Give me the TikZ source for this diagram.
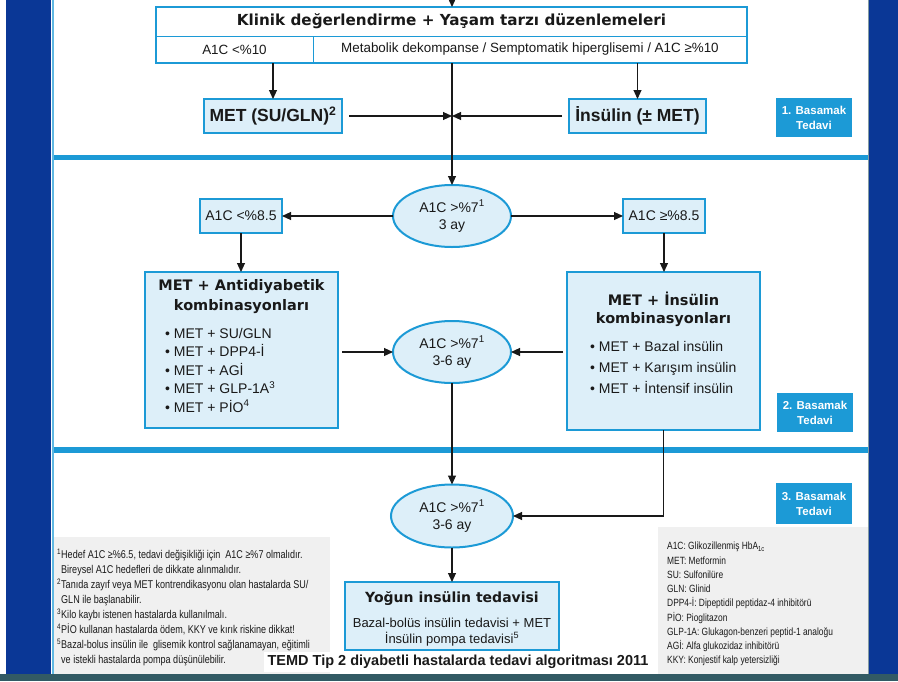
\documentclass[tikz,border=0pt]{standalone}
\usepackage{fontspec}
\setmainfont{Liberation Sans}
\newfontfamily\vfont{DejaVu Sans}
\newfontfamily\narrowfont{Liberation Sans}[FakeStretch=0.8]
\usetikzlibrary{arrows.meta,shapes.geometric,positioning}

\definecolor{navy}{RGB}{10,55,150}
\definecolor{cyanb}{RGB}{28,154,214}
\definecolor{paleb}{RGB}{221,239,249}
\definecolor{panelg}{RGB}{240,240,240}
\definecolor{edgeteal}{RGB}{50,90,100}
\definecolor{ink}{RGB}{25,25,25}

\begin{document}
\begin{tikzpicture}[x=1pt,y=-1pt,text=ink,
    box/.style={draw=cyanb,line width=2pt,fill=paleb,inner sep=0pt,outer sep=0pt,align=center},
    cell/.style={draw=cyanb,line width=0.8pt,fill=white,inner sep=0pt,outer sep=0pt,minimum height=27pt,font=\fontsize{13.4}{16}\selectfont},
    oval/.style={ellipse,draw=cyanb,line width=2pt,fill=paleb,inner sep=0pt,outer sep=0pt,minimum width=118pt,minimum height=62pt,align=center,font=\fontsize{14}{17}\selectfont},
    stagebox/.style={fill=cyanb,text=white,inner sep=0pt,minimum width=76pt,minimum height=39pt,align=center,font=\bfseries\fontsize{11.5}{15}\selectfont},
    title/.style={inner sep=0pt,anchor=base,font=\vfont\bfseries\fontsize{14.5}{19}\selectfont},
    item/.style={inner sep=0pt,anchor=base west,font=\fontsize{14}{17}\selectfont},
    arr/.style={draw=ink,-{Triangle[length=9pt,width=8pt]},line width=1.1pt},
    note/.style={inner sep=0pt,anchor=north west,align=left}]

    \useasboundingbox (0,0) rectangle (898,681);
    \fill[white] (0,0) rectangle (898,681);
    \fill[navy] (6,0) rectangle (51,681);
    \fill[navy] (869,0) rectangle (898,681);
    \draw[cyanb!70,line width=2pt] (52.5,0) -- (52.5,675);
    \draw[edgeteal!60,line width=1pt] (868.5,0) -- (868.5,675);
    \fill[cyanb] (54,155) rectangle (868,160);
    \fill[cyanb] (54,447) rectangle (868,453);
    \fill[panelg] (54,537) rectangle (330,674);
    \fill[panelg] (658,527) rectangle (868,674);
    \fill[edgeteal] (0,674) rectangle (898,681);

    \node[cell,minimum width=591pt,minimum height=29pt,font=\vfont\bfseries\fontsize{15.2}{18}\selectfont] (klinik) at (451.5,21.5) {Klinik değerlendirme + Yaşam tarzı düzenlemeleri};
    \node[cell,anchor=north west,minimum width=157pt] (a1c10) at (klinik.south west) {A1C <\%10};
    \node[cell,anchor=north west,minimum width=434pt] (metab) at (a1c10.north east) {Metabolik dekompanse / Semptomatik hiperglisemi / A1C ≥\%10};
    \draw[cyanb,line width=2.5pt] (klinik.north west) rectangle (metab.south east);

    \node[box,minimum width=138pt,minimum height=34pt,font=\bfseries\fontsize{17.5}{20}\selectfont] (met) at (273,116) {MET (SU/GLN)\textsuperscript{2}};
    \node[box,minimum width=137pt,minimum height=34pt,font=\bfseries\fontsize{17.5}{20}\selectfont] (ins) at (637.5,116) {İnsülin (± MET)};
    \node[stagebox] (stage1) at (814,117.5) {1. Basamak\\Tedavi};

    \coordinate (incoming) at (452,-4);
    \coordinate (mid) at (452,116);
    \draw[arr] (incoming) -- (incoming |- klinik.north);
    \draw[arr] (met.north |- a1c10.south) -- (met);
    \draw[arr] (ins.north |- metab.south) -- (ins);
    \draw[arr,shorten <=7pt] (met) -- (mid);
    \draw[arr,shorten <=7pt] (ins) -- (mid);

    \node[oval] (ell1) at (452,216) {A1C >\%7\textsuperscript{1}\\3 ay};
    \draw[arr] (metab.south -| mid) -- (ell1);
    \node[box,minimum width=82pt,minimum height=34pt,font=\fontsize{14}{17}\selectfont] (lowa) at (241,216) {A1C <\%8.5};
    \node[box,minimum width=82pt,minimum height=34pt,font=\fontsize{14}{17}\selectfont] (higha) at (664,216) {A1C ≥\%8.5};
    \draw[arr] (ell1) -- (lowa);
    \draw[arr] (ell1) -- (higha);

    \node[box,minimum width=193pt,minimum height=156pt] (oral) at (241.5,350) {};
    \node[title] (oraltitle) at (241.5,290.5) {MET + Antidiyabetik};
    \node[title] (oraltitle2) at (241.5,310) {kombinasyonları};
    \foreach \drug [count=\k] in {SU/GLN, DPP4-İ, AGİ, GLP-1A\textsuperscript{3}, PİO\textsuperscript{4}}
        \node[item] (oral\k) at (165,{319.5+18.5*\k}) {• MET + \drug};

    \node[box,minimum width=193pt,minimum height=158pt] (insbox) at (663.5,351) {};
    \node[title] (institle) at (663.5,305) {MET + İnsülin};
    \node[title] (institle2) at (663.5,323.5) {kombinasyonları};
    \foreach \kind [count=\k] in {Bazal insülin, Karışım insülin, İntensif insülin}
        \node[item] (ins\k) at (590,{330+21*\k}) {• MET + \kind};
    \node[stagebox] (stage2) at (815,412.5) {2. Basamak\\Tedavi};

    \draw[arr] (lowa) -- (lowa |- oral.north);
    \draw[arr] (higha) -- (higha |- insbox.north);

    \node[oval] (ell2) at (452,352) {A1C >\%7\textsuperscript{1}\\3-6 ay};
    \draw[arr,shorten <=4pt] (oral.east |- ell2) -- (ell2);
    \draw[arr,shorten <=4pt] (insbox.west |- ell2) -- (ell2);

    \node[oval,minimum width=122pt,minimum height=63pt] (ell3) at (452,516) {A1C >\%7\textsuperscript{1}\\3-6 ay};
    \draw[arr] (ell2) -- (ell3);
    \draw[arr] (insbox.south) |- (ell3);
    \node[stagebox,minimum height=41pt] (stage3) at (814,503.5) {3. Basamak\\Tedavi};

    \node[box,minimum width=214pt,minimum height=68pt] (yogun) at (452,616) {};
    \node[title,font=\vfont\bfseries\fontsize{14}{17}\selectfont] (yoguntitle) at (452,602) {Yoğun insülin tedavisi};
    \node[inner sep=0pt,anchor=base,font=\fontsize{13}{16}\selectfont] (yogun1) at (452,627) {Bazal-bolüs insülin tedavisi + MET};
    \node[inner sep=0pt,anchor=base,font=\fontsize{13}{16}\selectfont] (yogun2) at (452,643) {İnsülin pompa tedavisi\textsuperscript{5}};
    \draw[arr] (ell3) -- (yogun);

    \node[note,font=\narrowfont\fontsize{11.3}{15}\selectfont] (notes) at (57,549) {\textsuperscript{1}Hedef A1C ≥\%6.5, tedavi değişikliği için\ \ A1C ≥\%7 olmalıdır.\\
        \hspace*{4pt}Bireysel A1C hedefleri de dikkate alınmalıdır.\\
        \textsuperscript{2}Tanıda zayıf veya MET kontrendikasyonu olan hastalarda SU/\\
        \hspace*{4pt}GLN ile başlanabilir.\\
        \textsuperscript{3}Kilo kaybı istenen hastalarda kullanılmalı.\\
        \textsuperscript{4}PİO kullanan hastalarda ödem, KKY ve kırık riskine dikkat!\\
        \textsuperscript{5}Bazal-bolus insülin ile\ \ glisemik kontrol sağlanamayan, eğitimli\\
        \hspace*{4pt}ve istekli hastalarda pompa düşünülebilir.};
    \node[note,font=\narrowfont\fontsize{10.5}{14.25}\selectfont] (legend) at (667,542) {A1C: Glikozillenmiş HbA\textsubscript{1c}\\
        MET: Metformin\\
        SU: Sulfonilüre\\
        GLN: Glinid\\
        DPP4-İ: Dipeptidil peptidaz-4 inhibitörü\\
        PİO: Pioglitazon\\
        GLP-1A: Glukagon-benzeri peptid-1 analoğu\\
        AGİ: Alfa glukozidaz inhibitörü\\
        KKY: Konjestif kalp yetersizliği};

    \node[fill=white,inner xsep=4pt,inner ysep=3pt,font=\bfseries\fontsize{14.5}{16}\selectfont] (caption) at (458,662) {TEMD Tip 2 diyabetli hastalarda tedavi algoritması 2011};
\end{tikzpicture}
\end{document}
